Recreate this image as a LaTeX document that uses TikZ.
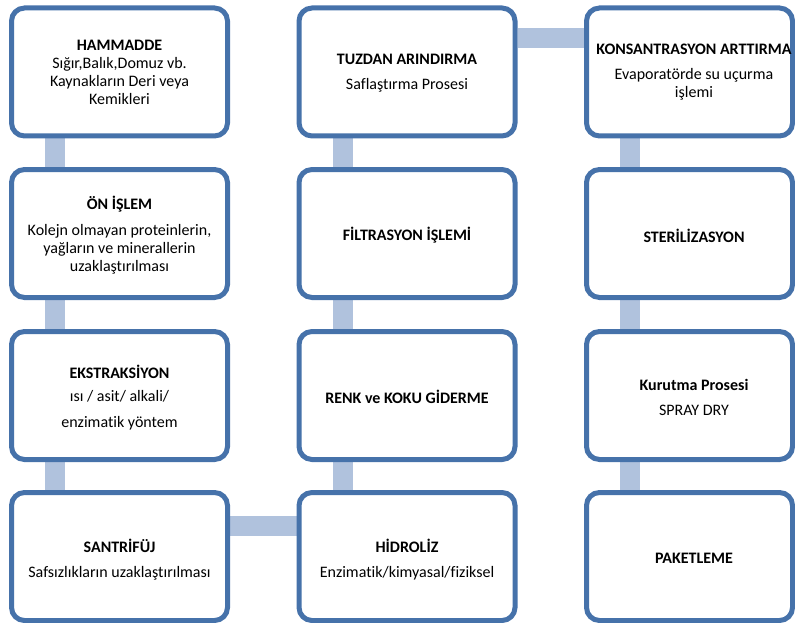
\documentclass[tikz,border=0pt]{standalone}
\usepackage{fontspec}
\setmainfont[Ligatures=NoCommon]{Carlito}
\usetikzlibrary{backgrounds}
\definecolor{bordc}{RGB}{70,114,170}
\definecolor{connc}{RGB}{176,194,221}
\begin{document}
\begin{tikzpicture}[x=1pt,y=-1pt,
  stepbox/.style={draw=bordc, line width=5pt, rounded corners=13pt, fill=white,
    minimum width=216pt, minimum height=128pt, inner sep=0pt},
  narrowbox/.style={stepbox, minimum width=206pt},
  txt/.style={align=center, font=\fontsize{16}{18}\selectfont, text=black, inner sep=0pt},
  conn/.style={draw=connc, line width=20pt}]
\useasboundingbox (0,0) rectangle (795,623);
% column 1
\node[stepbox] (b11) at (119.5,72) {};
\node[stepbox] (b12) at (119.5,233.5) {};
\node[stepbox] (b13) at (119.5,395.5) {};
\node[stepbox] (b14) at (119.5,556.5) {};
% column 2
\node[stepbox] (b21) at (407,72) {};
\node[stepbox] (b22) at (407,233.5) {};
\node[stepbox] (b23) at (407,395.5) {};
\node[stepbox] (b24) at (407,556.5) {};
% column 3
\node[narrowbox] (b31) at (689.5,72) {};
\node[narrowbox] (b32) at (689.5,233.5) {};
\node[narrowbox] (b33) at (689.5,395.5) {};
\node[narrowbox] (b34) at (689.5,556.5) {};
% texts
\node[txt] (t11) at ([yshift=0pt]b11.center) {\textbf{HAMMADDE}\\Sığır,Balık,Domuz vb.\\Kaynakların Deri veya\\Kemikleri};
\node[txt] (t12) at ([yshift=-2pt]b12.center) {\textbf{ÖN İŞLEM}\\[8pt]Kolejn olmayan proteinlerin,\\yağların ve minerallerin\\uzaklaştırılması};
\node[txt] (t13) at ([yshift=-2pt]b13.center) {\textbf{EKSTRAKSİYON}\\[5pt]ısı / asit/ alkali/\\[8pt]enzimatik yöntem};
\node[txt] (t14) at ([yshift=-3pt]b14.center) {\textbf{SANTRİFÜJ}\\[7pt]Safsızlıkların uzaklaştırılması};
\node[txt] (t21) at ([yshift=-1pt]b21.center) {\textbf{TUZDAN ARINDIRMA}\\[7pt]Saflaştırma Prosesi};
\node[txt] (t22) at ([yshift=-2pt]b22.center) {\textbf{FİLTRASYON İŞLEMİ}};
\node[txt] (t23) at ([yshift=-1.5pt]b23.center) {\textbf{RENK ve KOKU GİDERME}};
\node[txt] (t24) at ([yshift=-3pt]b24.center) {\textbf{HİDROLİZ}\\[7pt]Enzimatik/kimyasal/fiziksel};
\node[txt] (t31) at ([xshift=4.5pt]b31.center) {\textbf{KONSANTRASYON ARTTIRMA}\\[7pt]Evaporatörde su uçurma\\işlemi};
\node[txt] (t32) at ([xshift=4.5pt,yshift=-2pt]b32.center) {\textbf{STERİLİZASYON}};
\node[txt] (t33) at ([xshift=4.5pt,yshift=-2pt]b33.center) {\textbf{Kurutma Prosesi}\\[7pt]SPRAY DRY};
\node[txt] (t34) at ([xshift=4.5pt,yshift=-2pt]b34.center) {\textbf{PAKETLEME}};
% connectors
\coordinate (xa) at (55,0);
\coordinate (xb) at (343,0);
\coordinate (xc) at (630,0);
\coordinate (ya) at (0,38);
\coordinate (yb) at (0,525.5);
\begin{scope}[on background layer]
\draw[conn] (b11.south -| xa) -- (b12.north -| xa);
\draw[conn] (b12.south -| xa) -- (b13.north -| xa);
\draw[conn] (b13.south -| xa) -- (b14.north -| xa);
\draw[conn] (b14.east |- yb) -- (b24.west |- yb);
\draw[conn] (b24.north -| xb) -- (b23.south -| xb);
\draw[conn] (b23.north -| xb) -- (b22.south -| xb);
\draw[conn] (b22.north -| xb) -- (b21.south -| xb);
\draw[conn] (b21.east |- ya) -- (b31.west |- ya);
\draw[conn] (b31.south -| xc) -- (b32.north -| xc);
\draw[conn] (b32.south -| xc) -- (b33.north -| xc);
\draw[conn] (b33.south -| xc) -- (b34.north -| xc);
\end{scope}
\end{tikzpicture}
\end{document}
